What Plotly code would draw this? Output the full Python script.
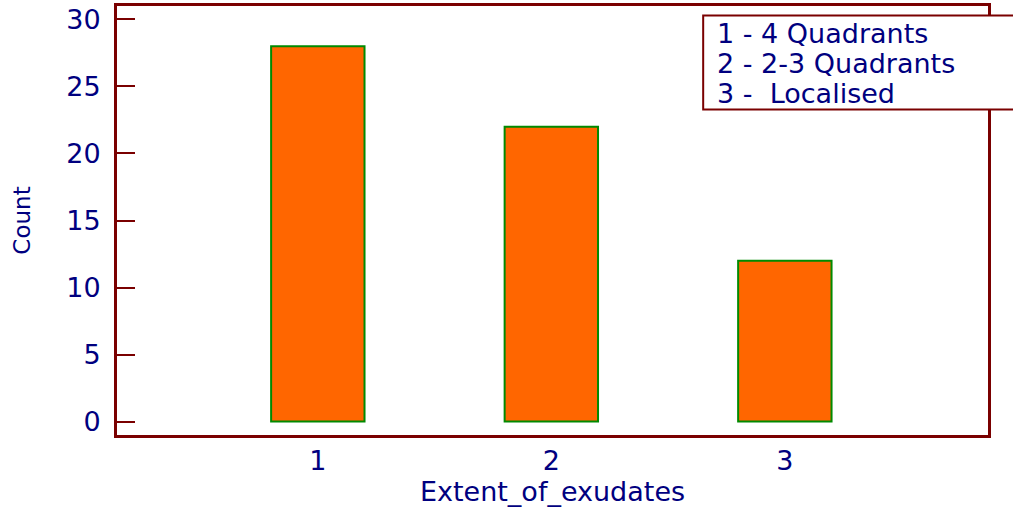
import plotly.graph_objs as go

# extent of exudates groups and their counts
categories = [1, 2, 3]
counts = [28, 22, 12]
legend_lines = ["1 - 4 Quadrants", "2 - 2-3 Quadrants", "3 -\u00a0\u00a0Localised"]

maroon = "#7a0000"
navy = "#00007f"
font_family = "DejaVu Sans, Liberation Sans, Arial"

fig = go.Figure(
    data=[
        go.Bar(
            x=categories,
            y=counts,
            width=0.4,
            marker=dict(color="#ff6600", line=dict(color="#008a00", width=2)),
            showlegend=False,
        )
    ],
    layout=go.Layout(
        width=1013,
        height=508,
        paper_bgcolor="white",
        plot_bgcolor="white",
        margin=dict(l=117, r=25, t=6, b=73),
        font=dict(family=font_family, color=navy, size=27),
        xaxis=dict(
            title=dict(text="Extent_of_exudates", font=dict(size=27, color=navy), standoff=6),
            range=[0.14, 3.87],
            tickvals=categories,
            ticktext=[str(c) for c in categories],
            ticks="",
            ticklabelstandoff=0,
            automargin=False,
            showgrid=False,
            zeroline=False,
            showline=True,
            linecolor=maroon,
            linewidth=3,
            mirror=True,
            tickfont=dict(size=27, color=navy),
        ),
        yaxis=dict(
            title=dict(text="Count", font=dict(size=23, color=navy), standoff=30),
            range=[-1, 31],
            tickvals=[0, 5, 10, 15, 20, 25, 30],
            ticks="inside",
            ticklen=18,
            tickwidth=2,
            tickcolor=maroon,
            ticklabelstandoff=8,
            automargin=False,
            showgrid=False,
            zeroline=False,
            showline=True,
            linecolor=maroon,
            linewidth=3,
            mirror=True,
            tickfont=dict(size=27, color=navy),
        ),
        shapes=[
            dict(
                type="rect", xref="paper", yref="paper",
                x0=0.673, x1=1.05, y0=0.759, y1=0.978,
                fillcolor="white", line=dict(color=maroon, width=2), layer="above",
            )
        ],
    ),
)

# legend box text
for i, line in enumerate(legend_lines):
    fig.add_annotation(
        xref="paper", yref="paper",
        x=0.686, y=0.935 - i * 0.07,
        xanchor="left", yanchor="middle",
        text=line, showarrow=False,
        font=dict(size=27, color=navy),
    )

fig.write_html(
    "out.html",
    config={"displayModeBar": False},
    post_script="document.body.style.margin = '0';",
)
